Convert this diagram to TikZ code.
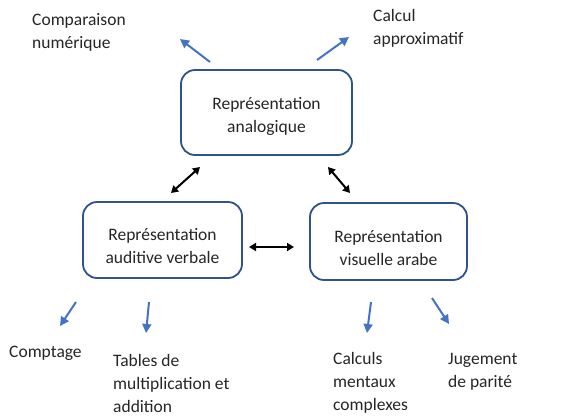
\documentclass[tikz,border=0pt]{standalone}
\usepackage{fontspec}
\setmainfont{Carlito}
\usetikzlibrary{arrows.meta}
\definecolor{boxblue}{RGB}{47,82,143}
\definecolor{arrblue}{RGB}{68,114,196}
\definecolor{txt}{RGB}{38,38,38}
\begin{document}
\begin{tikzpicture}[x=1pt,y=-1pt,
  every node/.style={font=\fontsize{17.5}{23}\selectfont, text=txt, inner sep=0pt},
  rbox/.style={draw=boxblue, line width=1.8pt, rounded corners=14pt, fill=white},
  lbl/.style={align=left, anchor=west},
  blue arrow/.style={draw=arrblue, line width=2pt, -{Triangle[length=9pt,width=9pt]}},
  black arrow/.style={draw=black, line width=2pt, {Triangle[length=7pt,width=8pt]}-{Triangle[length=7pt,width=8pt]}}]
\useasboundingbox (0,0) rectangle (565,416);
\fill[white] (0,0) rectangle (565,416);
% boxes
\draw[rbox] (181,70) rectangle (352,155);
\node[align=center] (ana) at (266.5,116) {Représentation\\analogique};
\draw[rbox] (83,202) rectangle (242,278);
\node[align=center] (aud) at (162.5,246) {Représentation\\auditive verbale};
\draw[rbox] (310,203) rectangle (467,280);
\node[align=center] (vis) at (388.5,248) {Représentation\\visuelle arabe};
% outer labels
\node[lbl] (comp) at (32,32) {Comparaison\\numérique};
\node[lbl] (calc) at (373,28) {Calcul\\approximatif};
\node[lbl] (compt) at (9,353) {Comptage};
\node[lbl] (tab) at (113,383) {Tables de\\multiplication et\\addition};
\node[lbl] (cm) at (333,383) {Calculs\\mentaux\\complexes};
\node[lbl] (jug) at (448,372) {Jugement\\de parité};
% arrow endpoints
\coordinate (a1s) at (210,62); \coordinate (a1e) at (180,39);
\coordinate (a2s) at (317,60); \coordinate (a2e) at (349,37);
\coordinate (a3s) at (76,302); \coordinate (a3e) at (60,326);
\coordinate (a4s) at (149,302); \coordinate (a4e) at (146,333);
\coordinate (a5s) at (371,302); \coordinate (a5e) at (367,333);
\coordinate (a6s) at (432,298); \coordinate (a6e) at (449,324);
\coordinate (b1s) at (171,193); \coordinate (b1e) at (200,167);
\coordinate (b2s) at (328,167); \coordinate (b2e) at (350,193);
\coordinate (b3s) at (249,247); \coordinate (b3e) at (294,247);
\draw[blue arrow] (a1s) -- (a1e);
\draw[blue arrow] (a2s) -- (a2e);
\draw[blue arrow] (a3s) -- (a3e);
\draw[blue arrow] (a4s) -- (a4e);
\draw[blue arrow] (a5s) -- (a5e);
\draw[blue arrow] (a6s) -- (a6e);
\draw[black arrow] (b1s) -- (b1e);
\draw[black arrow] (b2s) -- (b2e);
\draw[black arrow] (b3s) -- (b3e);
\end{tikzpicture}
\end{document}
